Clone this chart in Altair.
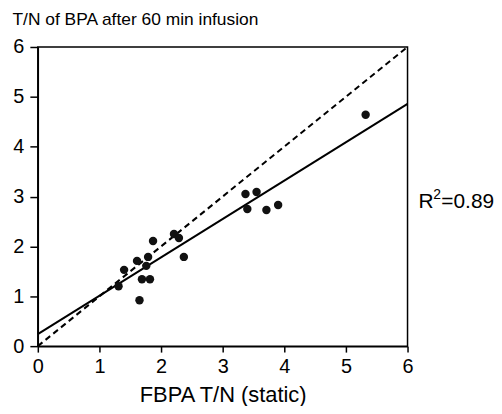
import altair as alt
import pandas as pd

# data
fbpa_tn = [1.31, 1.40, 1.61, 1.65, 1.69, 1.76, 1.79, 1.82, 1.87, 2.21, 2.29, 2.37,
           3.37, 3.40, 3.55, 3.71, 3.90, 5.32]
bpa_tn = [1.20, 1.53, 1.71, 0.92, 1.34, 1.61, 1.79, 1.34, 2.11, 2.25, 2.17, 1.79,
          3.05, 2.75, 3.09, 2.73, 2.83, 4.64]
fit_intercept = 0.24
fit_slope = 0.77
line_range = [0, 6]
axis_ticks = [0, 1, 2, 3, 4, 5, 6]
r2_parts = ["R", "2", "=0.89"]
r2_y = 2.90

FONT = "Liberation Sans"

pts = pd.DataFrame({"x": fbpa_tn, "y": bpa_tn})
fit = pd.DataFrame({"x": line_range,
                    "y": [fit_intercept + fit_slope * v for v in line_range]})
ident = pd.DataFrame({"x": line_range, "y": line_range})

xs = alt.Scale(domain=[0, 6], nice=False, zero=False)
ys = alt.Scale(domain=[0, 6], nice=False, zero=False)

x_axis = alt.Axis(values=axis_ticks, format="d", grid=False, title="FBPA T/N (static)",
                  titleFontSize=22, titleFont=FONT, titleFontWeight="normal",
                  titleColor="black", titleBaseline="alphabetic", titleY=56,
                  labelFontSize=20, labelFont=FONT, labelColor="black",
                  labelPadding=5, tickSize=6, tickColor="black", tickWidth=1.5,
                  domainColor="black", domainWidth=1.5, labelFlush=False)
y_axis = alt.Axis(values=axis_ticks, format="d", grid=False,
                  title="T/N of BPA after 60 min infusion",
                  titleAngle=0, titleAlign="left", titleBaseline="alphabetic",
                  titleX=-26, titleY=-23, titleFontSize=17.5, titleFont=FONT,
                  titleFontWeight="normal", titleColor="black",
                  labelFontSize=20, labelFont=FONT, labelColor="black",
                  labelPadding=6, tickSize=8, tickColor="black", tickWidth=1.5,
                  domainColor="black", domainWidth=1.5, labelFlush=False)

points = alt.Chart(pts).mark_circle(size=72, color="#111111", opacity=1).encode(
    x=alt.X("x:Q", scale=xs, axis=x_axis),
    y=alt.Y("y:Q", scale=ys, axis=y_axis),
)
fit_line = alt.Chart(fit).mark_line(color="black", strokeWidth=2).encode(
    x=alt.X("x:Q", scale=xs), y=alt.Y("y:Q", scale=ys))
ident_line = alt.Chart(ident).mark_line(color="black", strokeWidth=2,
                                        strokeDash=[6, 4]).encode(
    x=alt.X("x:Q", scale=xs), y=alt.Y("y:Q", scale=ys))


def r2_piece(text, dx, dy, size):
    df = pd.DataFrame({"x": [line_range[1]], "y": [r2_y], "t": [text]})
    return alt.Chart(df).mark_text(align="left", baseline="middle", dx=dx, dy=dy,
                                   fontSize=size, font=FONT, color="black").encode(
        x=alt.X("x:Q", scale=xs), y=alt.Y("y:Q", scale=ys), text="t:N")


r2 = alt.layer(
    r2_piece(r2_parts[0], 11, 0, 21),
    r2_piece(r2_parts[1], 26, -7, 14),
    r2_piece(r2_parts[2], 34, 0, 21),
)

chart = alt.layer(ident_line, fit_line, points, r2).properties(
    width=372, height=301,
    autosize=alt.AutoSizeParams(type="none"),
    padding={"left": 30, "top": 38, "right": 87, "bottom": 59},
).configure_view(stroke="black", strokeWidth=1.5)

chart.save("out.html", embed_options={"renderer": "svg", "actions": False})
